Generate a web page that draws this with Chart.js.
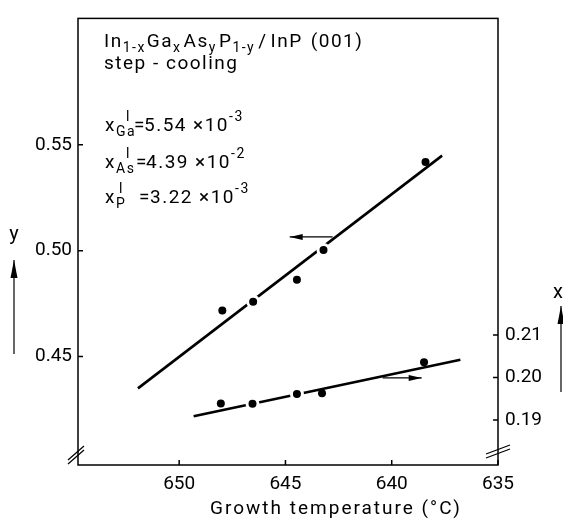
<!DOCTYPE html>
<html>
<head>
<meta charset="utf-8">
<script src="https://cdn.jsdelivr.net/npm/chart.js@4/dist/chart.umd.min.js"></script>
<style>
  html, body { margin: 0; padding: 0; background: #fff; }
  #box { width: 563px; height: 521px; }
</style>
</head>
<body>
<div id="box"><canvas id="grafico" width="563" height="521"></canvas></div>
<script>
// growth temperature (°C) and measured y (As fraction), left axis
var temp_y = [647.97, 646.52, 644.46, 643.21, 638.41];
var valori_y = [0.4718, 0.4759, 0.4863, 0.5003, 0.5419];
// growth temperature (°C) and measured x (Ga fraction), right axis
var temp_x = [648.04, 646.55, 644.46, 643.28, 638.48];
var valori_x = [0.1939, 0.1938, 0.1961, 0.1963, 0.2036];
// fitted straight lines (end points)
var retta_y_temp = [651.94, 637.63];
var retta_y = [0.435, 0.5449];
var retta_x_temp = [649.32, 636.77];
var retta_x = [0.1909, 0.2042];
// tick values
var tick_temp = [650, 645, 640, 635];
var tick_y = [0.45, 0.50, 0.55];
var tick_x = [0.19, 0.20, 0.21];
// small arrows telling which axis a line belongs to
var freccia_y_temp = [642.78, 644.80];
var freccia_y = [0.5065, 0.5065];
var freccia_x_temp = [640.43, 638.59];
var freccia_x = [0.1999, 0.1999];

var FONT = 'Roboto, "DejaVu Sans", sans-serif';

function punti(xs, ys) {
    var out = [];
    for (var i = 0; i < xs.length; i++) {
        out.push({x: xs[i], y: ys[i]});
    }
    return out;
}

function imposta(ctx, tipo) {
    if (tipo == 'n') { ctx.font = '19px ' + FONT; return 0; }
    ctx.font = '14px ' + FONT;
    return tipo == 'sub' ? 5 : -10;
}

// pieces one after the other: [testo, tipo, spazio dopo]
function scrivi(ctx, x, y, pezzi) {
    for (var i = 0; i < pezzi.length; i++) {
        var p = pezzi[i];
        var dy = imposta(ctx, p[1]);
        ctx.fillText(p[0], x, y + dy);
        x += ctx.measureText(p[0]).width + (p[2] || 0);
    }
    return x;
}

function freccia(ctx, x1, y1, x2, y2, lung, larg) {
    // line from (x1,y1) with arrow head at (x2,y2)
    var ang = Math.atan2(y2 - y1, x2 - x1);
    ctx.beginPath();
    ctx.moveTo(x1, y1);
    ctx.lineTo(x2, y2);
    ctx.stroke();
    ctx.beginPath();
    ctx.moveTo(x2, y2);
    ctx.lineTo(x2 - lung * Math.cos(ang) + larg * Math.sin(ang), y2 - lung * Math.sin(ang) - larg * Math.cos(ang));
    ctx.lineTo(x2 - lung * Math.cos(ang) - larg * Math.sin(ang), y2 - lung * Math.sin(ang) + larg * Math.cos(ang));
    ctx.closePath();
    ctx.fill();
}

// one line "x^l_el = value ×10^exp"
function frazione(ctx, y, el, xL, val, esp, xUguale, xNum) {
    scrivi(ctx, 105, y, [['x', 'n']]);
    scrivi(ctx, 116, y, [[el, 'sub']]);
    scrivi(ctx, xL, y, [['l', 'sup']]);
    scrivi(ctx, xUguale, y, [['=', 'n']]);
    var fine = scrivi(ctx, xNum, y, [[val, 'n', 6]]);
    scrivi(ctx, fine, y, [['×10', 'n', 0], [esp, 'sup']]);
}

var cornice = {
    id: 'cornice',
    afterDraw: function(chart) {
        var ctx = chart.ctx;
        var a = chart.chartArea;
        var sx = chart.scales.x, sy = chart.scales.y, sy2 = chart.scales.y2;
        ctx.save();
        ctx.strokeStyle = '#000';
        ctx.fillStyle = '#000';
        ctx.lineWidth = 1.5;
        ctx.strokeRect(a.left, a.top, a.right - a.left, a.bottom - a.top);

        // ticks pointing inside the frame
        ctx.beginPath();
        tick_temp.forEach(function(v) {
            var p = sx.getPixelForValue(v);
            ctx.moveTo(p, a.bottom); ctx.lineTo(p, a.bottom - 5);
        });
        tick_y.forEach(function(v) {
            var p = sy.getPixelForValue(v);
            ctx.moveTo(a.left, p); ctx.lineTo(a.left + 5, p);
        });
        tick_x.forEach(function(v) {
            var p = sy2.getPixelForValue(v);
            ctx.moveTo(a.right, p); ctx.lineTo(a.right - 5, p);
        });
        ctx.stroke();

        // axis break marks
        ctx.lineWidth = 1.2;
        ctx.beginPath();
        ctx.moveTo(a.left - 10, a.bottom - 5); ctx.lineTo(a.left + 6, a.bottom - 19);
        ctx.moveTo(a.left - 10, a.bottom - 1); ctx.lineTo(a.left + 6, a.bottom - 15);
        ctx.moveTo(a.right - 12, a.bottom - 11); ctx.lineTo(a.right + 12, a.bottom - 20);
        ctx.moveTo(a.right - 12, a.bottom - 7); ctx.lineTo(a.right + 12, a.bottom - 16);
        ctx.stroke();

        // arrows next to the lines
        ctx.lineWidth = 1.2;
        freccia(ctx, sx.getPixelForValue(freccia_y_temp[0]), sy.getPixelForValue(freccia_y[0]),
                sx.getPixelForValue(freccia_y_temp[1]), sy.getPixelForValue(freccia_y[1]), 13, 3);
        freccia(ctx, sx.getPixelForValue(freccia_x_temp[0]), sy2.getPixelForValue(freccia_x[0]),
                sx.getPixelForValue(freccia_x_temp[1]), sy2.getPixelForValue(freccia_x[1]), 13, 3);

        // axis names with arrows
        ctx.font = '20px ' + FONT;
        ctx.textAlign = 'center';
        ctx.textBaseline = 'alphabetic';
        ctx.fillText('y', 14, 240);
        freccia(ctx, 14, 354, 14, 260, 18, 3.5);
        ctx.fillText('x', 558, 298);
        freccia(ctx, 561, 392, 561, 306, 18, 3.5);

        // x axis title
        ctx.font = '19px ' + FONT;
        ctx.letterSpacing = '2px';
        ctx.textBaseline = 'middle';
        ctx.fillText('Growth temperature (°C)', 336, 509);

        // text block in the upper left corner
        ctx.textAlign = 'left';
        ctx.textBaseline = 'alphabetic';
        ctx.letterSpacing = '1.5px';
        var t = a.top;
        scrivi(ctx, 104, t + 29, [['In', 'n', 0], ['1-x', 'sub', 1], ['Ga', 'n', 0], ['x', 'sub', 2],
            ['As', 'n', 0], ['y', 'sub', 2], ['P', 'n', 0], ['1-y', 'sub', 3],
            ['/', 'n', 3], ['InP', 'n', 8], ['(001)', 'n']]);
        scrivi(ctx, 104, t + 51, [['step - cooling', 'n']]);
        frazione(ctx, t + 113, 'Ga', 126, '5.54', '-3', 134, 144);
        frazione(ctx, t + 150, 'As', 126, '4.39', '-2', 136, 146);
        frazione(ctx, t + 185, 'P', 119, '3.22', '-3', 139, 150);
        ctx.restore();
    }
};

var ctx = document.getElementById('grafico').getContext('2d');

var grafico = new Chart(ctx, {
    type: 'scatter',
    data: {
        datasets: [
            {
                label: 'y',
                data: punti(temp_y, valori_y),
                yAxisID: 'y',
                order: 0,
                pointBackgroundColor: '#000',
                pointBorderColor: '#fff',
                pointRadius: [4, 5.5, 4, 5.5, 4],
                pointBorderWidth: [0, 3, 0, 3, 0]
            },
            {
                label: 'x',
                data: punti(temp_x, valori_x),
                yAxisID: 'y2',
                order: 0,
                pointBackgroundColor: '#000',
                pointBorderColor: '#fff',
                pointRadius: [4, 5.5, 5.5, 4, 4],
                pointBorderWidth: [0, 3, 3, 0, 0]
            },
            {
                label: 'fit y',
                data: punti(retta_y_temp, retta_y),
                yAxisID: 'y',
                order: 1,
                showLine: true,
                borderColor: '#000',
                borderWidth: 2.6,
                pointRadius: 0
            },
            {
                label: 'fit x',
                data: punti(retta_x_temp, retta_x),
                yAxisID: 'y2',
                order: 1,
                showLine: true,
                borderColor: '#000',
                borderWidth: 2.6,
                pointRadius: 0
            }
        ]
    },
    options: {
        responsive: false,
        animation: false,
        layout: { padding: { top: 10, left: 0, right: 0, bottom: 0 } },
        plugins: {
            legend: { display: false },
            tooltip: { enabled: false }
        },
        scales: {
            x: {
                type: 'linear',
                reverse: true,
                min: 635,
                max: 654.76,
                grid: { display: false, drawTicks: false },
                border: { display: false },
                afterFit: function(s) { s.height = 56; },
                afterBuildTicks: function(s) { s.ticks = tick_temp.map(function(v) { return {value: v}; }); },
                ticks: {
                    color: '#000',
                    padding: 8,
                    font: { family: FONT, size: 19 },
                    callback: function(v) { return v.toFixed(0); }
                }
            },
            y: {
                position: 'left',
                min: 0.3988,
                max: 0.6097,
                grid: { display: false, drawTicks: false },
                border: { display: false },
                afterFit: function(s) { s.width = 78; },
                afterBuildTicks: function(s) { s.ticks = tick_y.map(function(v) { return {value: v}; }); },
                ticks: {
                    color: '#000',
                    padding: 6,
                    font: { family: FONT, size: 19 },
                    callback: function(v) { return v.toFixed(2); }
                }
            },
            y2: {
                position: 'right',
                min: 0.1794,
                max: 0.2846,
                grid: { display: false, drawTicks: false },
                border: { display: false },
                afterFit: function(s) { s.width = 65; },
                afterBuildTicks: function(s) { s.ticks = tick_x.map(function(v) { return {value: v}; }); },
                ticks: {
                    color: '#000',
                    padding: 7,
                    font: { family: FONT, size: 19 },
                    callback: function(v) { return v.toFixed(2); }
                }
            }
        }
    },
    plugins: [cornice]
});
</script>
</body>
</html>
